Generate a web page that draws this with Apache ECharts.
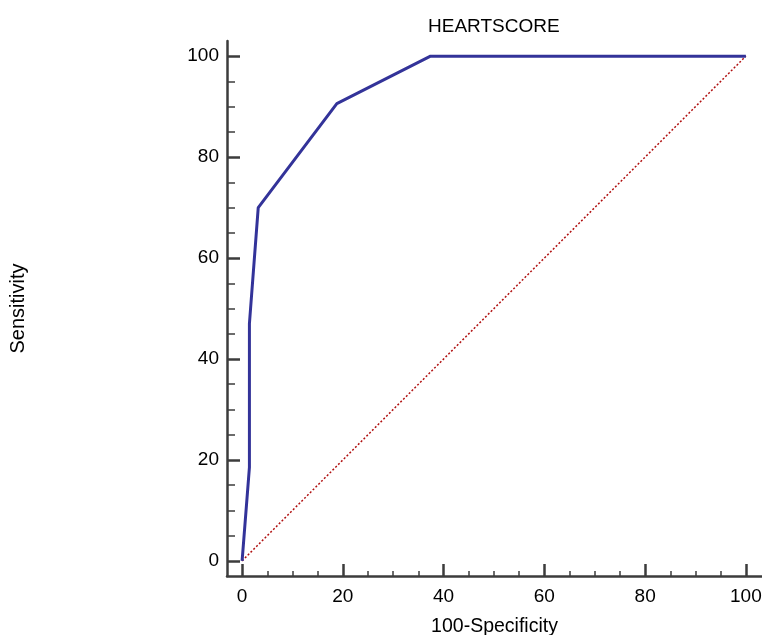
<!DOCTYPE html>
<html>
<head>
<meta charset="utf-8">
<script src="https://cdn.jsdelivr.net/npm/echarts@6/dist/echarts.min.js"></script>
<style>
    html, body { margin: 0; padding: 0; background: #fff; }
    #chart { width: 762px; height: 635px; }
</style>
</head>
<body>
<div id="chart"></div>
<script>
    // ROC 曲线数据
    const fpr = [0, 1.45, 1.45, 3.2, 18.8, 37.4, 100]
    const sens = [0, 18.5, 47, 70, 90.6, 100, 100]
    const diagX = [0, 100]
    const diagY = [0, 100]
    const majorTicks = [0, 20, 40, 60, 80, 100]
    const minorTicks = [5, 10, 15, 25, 30, 35, 45, 50, 55, 65, 70, 75, 85, 90, 95]

    const font = 'Liberation Sans, Arial, sans-serif'
    const axisColor = '#3c3c3c'

    const chart = echarts.init(document.getElementById('chart'))

    function axisPair (dim, max) {
        const major = {
            type: 'value',
            min: -3,
            max: max,
            position: dim === 'x' ? 'bottom' : 'left',
            axisLine: { show: true, onZero: false, lineStyle: { color: axisColor, width: 2.5 } },
            axisTick: {
                show: true, inside: true, length: dim === 'x' ? 12 : 13,
                customValues: majorTicks,
                lineStyle: { color: axisColor, width: 2.5 }
            },
            axisLabel: {
                customValues: majorTicks,
                color: '#000', fontSize: 19, fontFamily: font,
                margin: dim === 'x' ? 11 : 8
            },
            splitLine: { show: false }
        }
        const minor = {
            type: 'value',
            min: -3,
            max: max,
            position: dim === 'x' ? 'bottom' : 'left',
            axisLine: { show: false, onZero: false },
            axisTick: {
                show: true, inside: true, length: dim === 'x' ? 5 : 8,
                customValues: minorTicks,
                lineStyle: { color: axisColor, width: 1.5 }
            },
            axisLabel: { show: false },
            splitLine: { show: false }
        }
        return [major, minor]
    }

    const xAxes = axisPair('x', 103.2)
    xAxes[0].name = '100-Specificity'
    xAxes[0].nameLocation = 'middle'
    xAxes[0].nameGap = 41
    xAxes[0].nameTextStyle = { color: '#000', fontSize: 19.5, fontFamily: font }

    const yAxes = axisPair('y', 103)
    yAxes[0].name = 'Sensitivity'
    yAxes[0].nameLocation = 'middle'
    yAxes[0].nameGap = 199
    yAxes[0].nameTextStyle = { color: '#000', fontSize: 20, fontFamily: font }

    chart.setOption({
        animation: false,
        title: {
            text: 'HEARTSCORE',
            left: 423,
            top: 12,
            textStyle: { color: '#000', fontSize: 19, fontWeight: 'normal', fontFamily: font }
        },
        grid: {
            left: 227,
            top: 41,
            width: 535,
            height: 535,
            outerBoundsMode: 'none'
        },
        xAxis: xAxes,
        yAxis: yAxes,
        series: [
            {
                name: 'diag',
                type: 'line',
                data: diagX.map((x, i) => [x, diagY[i]]),
                showSymbol: false,
                lineStyle: { color: '#b01010', width: 1.5, type: [2, 2] },
                z: 2
            },
            {
                name: 'HEARTSCORE',
                type: 'line',
                data: fpr.map((x, i) => [x, sens[i]]),
                showSymbol: false,
                lineStyle: { color: '#333399', width: 3 },
                z: 3
            }
        ]
    })
</script>
</body>
</html>
